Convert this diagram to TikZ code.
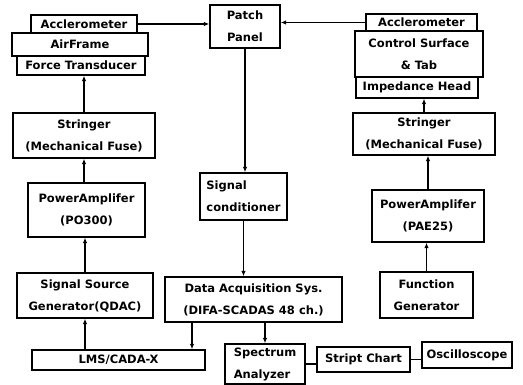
\documentclass[tikz,border=0pt]{standalone}
\usepackage{fontspec}
\setmainfont{DejaVu Sans}
\usetikzlibrary{arrows.meta}
\begin{document}
\begin{tikzpicture}[x=1pt,y=-1pt,
  box/.style={draw, line width=1.3pt, fill=white, inner sep=0pt, align=center,
    font=\bfseries\fontsize{11.5}{22}\selectfont},
  arr/.style={line width=1.3pt, -{Latex[length=5.5pt,width=4.5pt]}},
  ln/.style={line width=1.3pt}]
\useasboundingbox (0,0) rectangle (523,385);
% left stack
\node[box, minimum width=106pt, minimum height=18pt] (acc1) at (84,24) {Acclerometer};
\node[box, minimum width=136pt, minimum height=23pt] (air) at (80,44.5) {AirFrame};
\node[box, minimum width=128pt, minimum height=19pt] (ft) at (81,65.5) {Force Transducer};
% patch panel
\node[box, minimum width=70pt, minimum height=43pt] (patch) at (245,26.5) {Patch\\Panel};
% right stack
\node[box, minimum width=111pt, minimum height=17pt] (acc2) at (421.5,22.5) {Acclerometer};
\node[box, minimum width=128pt, minimum height=46pt] (cst) at (419,54) {Control Surface\\\& Tab};
\node[box, minimum width=122pt, minimum height=21pt] (imp) at (417,87.5) {Impedance Head};
% stringers
\node[box, minimum width=142pt, minimum height=45pt] (str1) at (84,135.5) {Stringer\\(Mechanical Fuse)};
\node[box, minimum width=142pt, minimum height=42pt] (str2) at (424,134) {Stringer\\(Mechanical Fuse)};
% middle
\node[box, minimum width=87pt, minimum height=47pt, align=left] (sig) at (243.5,196.5) {Signal\\conditioner};
\node[box, minimum width=117pt, minimum height=54pt] (pa1) at (86.5,210) {PowerAmplifer\\(PO300)};
\node[box, minimum width=112pt, minimum height=52pt] (pa2) at (428,216) {PowerAmplifer\\(PAE25)};
\node[box, minimum width=136pt, minimum height=45pt] (src) at (85,295.5) {Signal Source\\Generator(QDAC)};
\node[box, minimum width=177pt, minimum height=45pt] (daq) at (253.5,299.5) {Data Acquisition Sys.\\(DIFA-SCADAS 48 ch.)};
\node[box, minimum width=93pt, minimum height=46pt] (fg) at (426.5,295) {Function\\Generator};
\node[box, minimum width=173pt, minimum height=20pt] (lms) at (118.5,360) {LMS/CADA-X};
\node[box, minimum width=80pt, minimum height=40pt, align=left] (spec) at (265,364) {Spectrum\\Analyzer};
\node[box, minimum width=93pt, minimum height=25pt] (chart) at (363.5,359.5) {Stript Chart};
\node[box, minimum width=90pt, minimum height=26pt] (osc) at (467,355) {Oscilloscope};
% connectors
\draw[arr] (acc1.east) -- (acc1.east -| patch.west);
\draw[arr] (acc2.west) -- (acc2.west -| patch.east);
\draw[arr] (patch.south) -- (patch.south |- sig.north);
\draw[arr] (sig.south) -- (sig.south |- daq.north);
\path ([xshift=-61.5pt]daq.south) coordinate (d1);
\draw[arr] (d1) -- (d1 |- lms.north);
\draw[arr] (daq.south -| spec.north) -- (spec.north);
\draw[arr] (src.south |- lms.north) -- (src.south);
\draw[arr] (src.north) -- (src.north |- pa1.south);
\draw[arr] (str1.south |- pa1.north) -- (str1.south);
\draw[arr] (str1.north) -- (str1.north |- ft.south);
\draw[arr] (fg.north) -- (fg.north |- pa2.south);
\draw[arr] (pa2.north) -- (pa2.north |- str2.south);
\draw[arr] (str2.north) -- (str2.north |- imp.south);
\draw[ln] (spec.east) -- (spec.east -| chart.west);
\draw[ln] (chart.east) -- (chart.east -| osc.west);
\end{tikzpicture}
\end{document}
